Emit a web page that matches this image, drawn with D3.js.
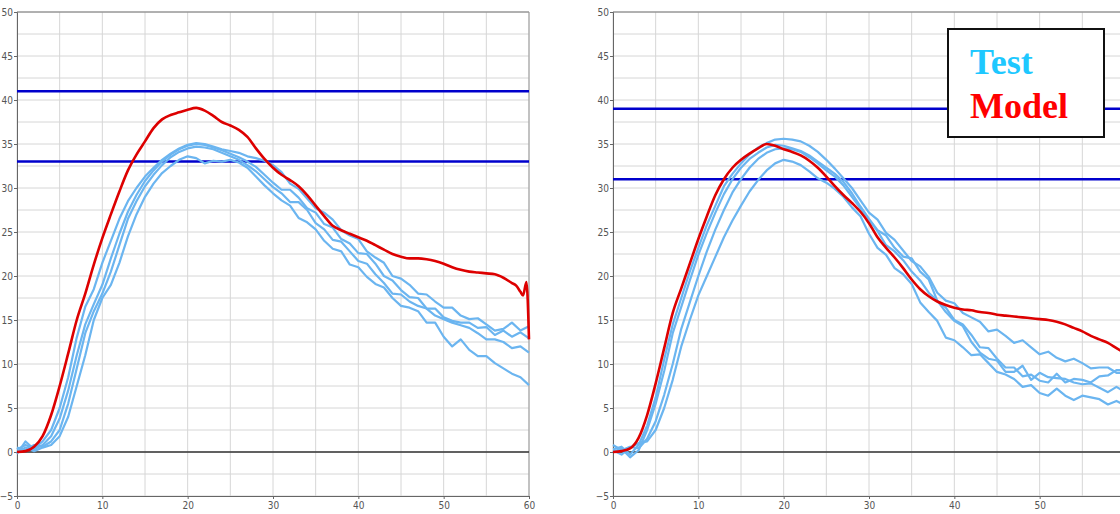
<!DOCTYPE html>
<html><head><meta charset="utf-8">
<script src="https://cdn.jsdelivr.net/npm/d3@7"></script>
<style>body{margin:0;background:#fff;} svg{display:block}</style>
</head><body><svg id="c" width="1120" height="514"></svg>
<script>
// ---- data ----
const timeS = [0,1,2,3,4,5,6,7,8,9,10,11,12,13,14,15,16,17,18,19,20,21,22,23,24,25,26,27,28,29,30,31,32,33,34,35,36,37,38,39,40,41,42,43,44,45,46,47,48,49,50,51,52,53,54,55,56,57,58,59,60];
const leftXTicks = [0,10,20,30,40,50,60];
const rightXTicks = [0,10,20,30,40,50];   // 60 falls outside the visible window
const yTicks = [-5,0,5,10,15,20,25,30,35,40,45,50];
const legendLabels = ["Test","Model"];

const leftLimits = [41,33];
const rightLimits = [39,31];

const leftTestA = [0.3,0.8,0.4,1.2,2.5,5,8.5,13,16.5,18.5,21.5,24,26.5,28.5,30,31.3,32.3,33.2,33.9,34.5,34.9,35.1,35,34.7,34.4,34.2,34,33.6,33.4,33.1,32.6,31.8,30.5,29.9,28.8,27.7,27.2,26.4,25.2,24.6,24.2,22.8,22.1,21.5,20,19.7,19,18,17.9,17.1,16.4,16.4,15.5,15.1,15.2,14.5,13.8,14,14.7,13.8,14.3];
const leftTestB = [-0.2,1.2,0.3,0.8,1.8,3.8,7,11,14.5,16.8,19,22,24.8,27.3,29.2,30.8,32,33,33.8,34.4,34.8,35,34.9,34.6,34.3,33.9,33.5,33,32.4,31.5,30.6,29.8,29.8,28.9,27.7,27.2,25.9,25.5,24.2,23.7,22.6,22.5,21.4,20,19.5,18.4,17.6,17.5,16.3,16.3,15.3,14.9,14.7,14.7,14.1,14.2,13.3,13.8,13.1,13.6,12.9];
const leftTestC = [0.5,0.2,0.8,0.6,1.2,2.5,5.5,9.5,13.5,16,18,20.5,23.5,26.5,28.5,30.2,31.5,32.6,33.5,34.1,34.5,34.7,34.6,34.4,34,33.6,33.2,32.6,31.9,31,30.1,29.4,28.4,28.4,27.5,26,25.3,24.1,23.9,22.8,21.7,21.4,20.2,19.2,18,17.9,17.1,16.6,16.3,15.5,15.1,14.7,14.4,14.1,13.5,12.8,12.8,12.5,11.8,12,11.3];
const leftTestD = [0,0.5,0.1,0.5,0.8,1.8,4,7.5,11,15,17.5,19,21.5,24.5,27,29,30.5,31.7,32.5,33.2,33.6,33.4,32.8,33.1,33,33.2,32.9,32.3,31.3,30.3,29.4,28.6,28,26.6,26.1,25.3,24,23.1,22.8,21.3,21,19.9,19.1,18.7,17.5,16.6,16.4,16,14.7,14.7,13.1,12,12.8,11.6,10.9,10.9,10.1,9.5,8.9,8.5,7.6];

const leftModelT = [0,1,2,3,4,5,6,7,8,9,10,11,12,13,14,15,16,17,18,19,20,21,22,23,24,25,26,27,28,29,30,31,32,33,34,35,36,37,38,39,40,41,42,43,44,45,46,47,48,49,50,51,52,53,54,55,56,57,58,58.5,59,59.3,59.7,60];
const leftModelV = [0,0.1,0.6,1.8,4.2,7.5,11.2,15,18,21.3,24.3,27,29.6,32,33.8,35.3,36.8,37.8,38.3,38.6,38.9,39.1,38.8,38.2,37.5,37.1,36.6,35.8,34.5,33.3,32.3,31.5,30.9,30.2,29.2,28,26.8,25.7,25.2,24.8,24.4,24,23.5,23,22.5,22.2,22,22,21.9,21.7,21.4,21,20.7,20.5,20.4,20.3,20.2,19.8,19.2,18.9,18.2,17.8,19.3,12.8];

const rightTestA = [0.3,0.6,-0.3,0.8,3,6.2,10.5,14.5,17.5,20.5,23.2,25.8,28,30.2,31.6,32.8,33.8,34.6,35.1,35.5,35.6,35.5,35.3,34.8,34.1,33.2,32.2,31.1,30,28.6,27.2,26.4,24.9,24.1,22.9,21.7,21.1,19.9,18.1,17.2,16.9,15.8,15.3,14.8,13.7,13.9,13.2,12.4,12.7,11.9,11.1,11.4,10.7,10.3,10.6,10.1,9.5,9.6,9.6,9,9];
const rightTestB = [0,0.4,-0.6,0.2,2.5,5.5,9.2,13.5,16.5,19.5,22.4,24.9,27.2,29.3,31,32.3,33.3,34,34.6,34.9,34.8,34.5,34.2,33.7,33,32.3,31.6,30.7,29.4,27.9,26.5,25.2,24.6,23.2,22.2,22,20.5,19.6,17.2,16.4,15,14.5,13.3,11.9,11.8,10.6,9.6,9.6,8.6,8.8,8.1,7.9,8.9,7.9,8.3,8.2,7.9,8.6,8.7,9.3,9.3];
const rightTestC = [0.8,0.2,0.6,0.4,1.5,3.5,6.5,10,14,17,20,22.8,25.3,27.5,29.5,31,32.3,33.3,34,34.4,34.5,34.4,34.1,33.5,32.8,32,31.3,30.3,29,27.7,26.4,25.1,23.5,22.8,21.8,20.5,19.5,18.1,17.2,15.9,14.9,14.3,12.5,11.3,10.6,10.4,9.1,9.1,9.8,8.2,9,8.5,8.4,8.3,7.9,7.7,7.8,7.3,6.8,7.4,6.8];
const rightTestD = [0.2,-0.3,0.5,1,1.2,2.5,5,8.2,12,15,17.8,20,22.2,24.4,26.3,28,29.6,30.9,32,32.8,33.2,33,32.6,31.9,31.1,30.6,29.9,29,27.8,26.8,24.8,23.2,22.4,20.9,20.2,19.1,17,15.9,14.9,13,12.7,11.9,11,11.1,10.1,9.1,8.8,8.3,7.4,7.6,6.7,6.4,7.2,6.4,5.9,6.4,6.2,6,5.4,5.8,5.3];
const rightModelV = [0,0.1,0.4,1.6,4.2,7.8,11.8,15.8,18.6,21.4,24.2,26.8,29.2,31,32.3,33.2,33.9,34.5,35,34.8,34.4,34.1,33.7,33.1,32.3,31.3,30.2,29.2,28.3,27.3,26,24.4,23.2,22.1,20.9,19.6,18.5,17.7,17.1,16.7,16.4,16.2,16.1,15.9,15.8,15.6,15.5,15.4,15.3,15.2,15.1,15,14.8,14.5,14.1,13.7,13.2,12.8,12.4,11.8,11.2];

// ---- drawing ----
const svg = d3.select("#c");
const TOP = 12, BOTTOM = 496, PW = 512;
const tickFont = "'Liberation Sans Narrow','Arial Narrow','DejaVu Sans Condensed',sans-serif";

const panels = [
  {x0:17, xTicks:leftXTicks, tests:[leftTestA,leftTestB,leftTestC,leftTestD], modelT:leftModelT, modelV:leftModelV, limits:leftLimits, legend:false},
  {x0:613, xTicks:rightXTicks, tests:[rightTestA,rightTestB,rightTestC,rightTestD], modelT:timeS, modelV:rightModelV, limits:rightLimits, legend:true}
];

panels.forEach(p => {
  const x = d3.scaleLinear().domain([0,60]).range([p.x0, p.x0+PW]);
  const y = d3.scaleLinear().domain([-5,50]).range([BOTTOM, TOP]);
  const g = svg.append("g");

  // grid
  g.append("g").selectAll("line").data(d3.range(-5, 50.01, 2.5)).join("line")
    .attr("x1", x(0)).attr("x2", x(60)).attr("y1", d=>y(d)).attr("y2", d=>y(d))
    .attr("stroke", "#d6d6d6").attr("stroke-width", 1);
  g.append("g").selectAll("line").data(d3.range(0, 60.01, 5)).join("line")
    .attr("y1", y(-5)).attr("y2", y(50)).attr("x1", d=>x(d)).attr("x2", d=>x(d))
    .attr("stroke", "#d6d6d6").attr("stroke-width", 1);

  // border
  g.append("line").attr("x1", x(0)).attr("x2", x(60)).attr("y1", y(50)).attr("y2", y(50)).attr("stroke","#777");
  g.append("line").attr("x1", x(60)).attr("x2", x(60)).attr("y1", y(50)).attr("y2", y(-5)).attr("stroke","#999");

  // zero line
  g.append("line").attr("x1", x(0)).attr("x2", x(60)).attr("y1", y(0)).attr("y2", y(0))
    .attr("stroke", "#333").attr("stroke-width", 1.3);

  // axes
  const ya = g.append("g").attr("transform", `translate(${x(0)},0)`)
    .call(d3.axisLeft(y).tickValues(yTicks).tickSize(3).tickPadding(1).tickFormat(d3.format("d")));
  const xa = g.append("g").attr("transform", `translate(0,${y(-5)})`)
    .call(d3.axisBottom(x).tickValues(p.xTicks).tickSize(3).tickPadding(3).tickFormat(d3.format("d")));
  [ya, xa].forEach(a => {
    a.select(".domain").attr("stroke", "#666");
    a.selectAll(".tick line").attr("stroke", "#666");
    a.selectAll("text").attr("fill", "#555").style("font-family", tickFont).style("font-size", "10px");
  });

  // limit lines
  g.append("g").selectAll("line").data(p.limits).join("line")
    .attr("x1", x(0)).attr("x2", x(60)).attr("y1", d=>y(d)).attr("y2", d=>y(d))
    .attr("stroke", "#0000cc").attr("stroke-width", 2.5);

  // test curves
  const line = d3.line().x(d=>x(d[0])).y(d=>y(d[1]));
  p.tests.forEach(vals => {
    g.append("path").datum(timeS.map((t,i)=>[t, vals[i]]))
      .attr("d", line).attr("fill","none").attr("stroke","#6bb5f0")
      .attr("stroke-width", 2.2).attr("stroke-linejoin","round");
  });
  // model
  g.append("path").datum(p.modelT.map((t,i)=>[t, p.modelV[i]]))
    .attr("d", d3.line().x(d=>x(d[0])).y(d=>y(d[1])).curve(d3.curveMonotoneX))
    .attr("fill","none").attr("stroke","#dd0000").attr("stroke-width", 2.6).attr("stroke-linejoin","round");

  if (p.legend) {
    const lg = g.append("g");
    lg.append("rect").attr("x", 948).attr("y", 29).attr("width", 156).attr("height", 108)
      .attr("fill", "#fff").attr("stroke", "#111").attr("stroke-width", 2);
    const colors = ["#1ec8ff", "#ff0000"];
    lg.selectAll("text").data(legendLabels).join("text")
      .attr("x", 970).attr("y", (d,i)=> 74 + i*44)
      .attr("fill", (d,i)=>colors[i])
      .style("font-family", "'Liberation Serif','Times New Roman',serif")
      .style("font-weight", "bold").style("font-size", "36px")
      .text(d=>d);
  }
});
</script>
</body></html>
